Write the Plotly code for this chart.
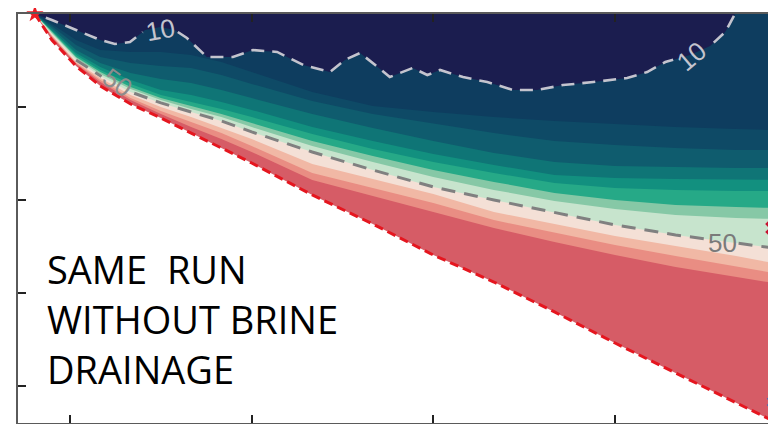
import numpy as np
import plotly.graph_objects as go

# ---------------- data (time in days, depth below ice surface in m) ----------------
days = [24.2, 27.0, 31.0, 35.0, 40.0, 45.0, 50.0, 55.0, 60.0, 70.0, 80.0,
        90.0, 100.0, 110.0, 120.0, 130.0, 140.0, 146.1]

ice_bottom = [0, .140, .280, .387, .484, .559, .640, .720, .801, .973, 1.129,
              1.296, 1.441, 1.602, 1.769, 1.930, 2.091, 2.188]
iso65 = [0, .124, .269, .366, .462, .538, .608, .672, .742, .892, .978,
         1.065, 1.151, 1.226, 1.296, 1.360, 1.414, 1.446]
iso60 = [0, .118, .263, .355, .452, .522, .581, .640, .710, .855, .935,
         1.016, 1.108, 1.177, 1.242, 1.301, 1.355, 1.392]
iso55 = [0, .113, .258, .344, .435, .500, .554, .613, .672, .806, .887,
         .968, 1.065, 1.129, 1.194, 1.247, 1.301, 1.339]
iso50 = [0, .108, .247, .333, .419, .478, .527, .575, .634, .742, .839,
         .930, 1.000, 1.065, 1.134, 1.188, 1.231, 1.258]
iso45 = [0, .102, .237, .323, .403, .462, .511, .554, .608, .710, .796,
         .876, .946, 1.005, 1.048, 1.081, 1.097, 1.102]
iso40 = [0, .097, .231, .312, .392, .452, .495, .538, .586, .683, .763,
         .839, .903, .962, 1.000, 1.027, 1.038, 1.043]
iso35 = [0, .091, .220, .301, .376, .435, .473, .511, .554, .645, .726,
         .796, .855, .909, .935, .946, .952, .952]
iso30 = [0, .086, .210, .285, .355, .409, .435, .473, .516, .608, .683,
         .753, .812, .866, .882, .887, .892, .892]
iso25 = [0, .075, .194, .263, .317, .349, .371, .409, .452, .538, .613,
         .683, .747, .796, .817, .823, .828, .828]
iso20 = [0, .065, .167, .231, .263, .280, .290, .328, .376, .468, .538,
         .591, .640, .683, .704, .720, .731, .731]
iso15 = [0, .054, .140, .194, .204, .204, .220, .258, .312, .419, .495,
         .527, .554, .575, .591, .608, .618, .624]

iso10_days = [24.2, 27.0, 31.0, 35.0, 37.4, 39.9, 42.4, 44.9, 47.3, 49.3, 52.6,
              56.9, 60.2, 64.2, 68.5, 72.9, 75.4, 77.9, 80.4, 82.8, 86.6, 89.0,
              91.1, 94.9, 98.9, 103.2, 107.1, 111.4, 116.4, 122.0, 125.3, 128.3,
              132.4, 135.7, 138.2, 139.8]
iso10 = [0, .032, .086, .140, .161, .151, .086, .070, .086, .129, .231,
         .231, .194, .204, .274, .312, .247, .210, .274, .339, .290, .328,
         .301, .339, .366, .409, .409, .382, .366, .344, .312, .258,
         .220, .172, .097, 0]

x_ticks = [30, 60, 90, 120]
y_ticks = [0.5, 1.0, 1.5, 2.0]

annotation_lines = ["SAME\u00a0\u00a0RUN", "WITHOUT BRINE", "DRAINAGE"]

# ---------------- styling ----------------
band_colors = {
    "red":      "#d65c66",
    "salmon":   "#e98d83",
    "lsalmon":  "#f1b8a5",
    "cream":    "#f4e0d6",
    "pale":     "#c7e4cd",
    "lgreen":   "#86c8a6",
    "green":    "#26a987",
    "gteal":    "#12907f",
    "teal":     "#0f7576",
    "mteal":    "#0f5c6e",
    "dteal":    "#0e4a66",
    "dblue":    "#0e3d5f",
    "navy":     "#1b1d4f",
}

# (boundary below the band, band colour) - painted deepest first
layers = [
    (days, ice_bottom, band_colors["red"]),
    (days, iso65, band_colors["salmon"]),
    (days, iso60, band_colors["lsalmon"]),
    (days, iso55, band_colors["cream"]),
    (days, iso50, band_colors["pale"]),
    (days, iso45, band_colors["lgreen"]),
    (days, iso40, band_colors["green"]),
    (days, iso35, band_colors["gteal"]),
    (days, iso30, band_colors["teal"]),
    (days, iso25, band_colors["mteal"]),
    (days, iso20, band_colors["dteal"]),
    (days, iso15, band_colors["dblue"]),
    (iso10_days, iso10, band_colors["navy"]),
]

fig = go.Figure()

for xs, ys, col in layers:
    px = list(xs) + [xs[-1], xs[0]]
    py = list(ys) + [0, 0]
    fig.add_trace(go.Scatter(x=px, y=py, fill="toself", fillcolor=col,
                             mode="lines", line=dict(width=0, color=col),
                             hoverinfo="skip", showlegend=False))


def with_gaps(xs, ys, gaps, start=None):
    xs = np.asarray(xs, float)
    ys = np.asarray(ys, float)
    outx, outy = [], []
    if start is not None:
        outx.append(start); outy.append(float(np.interp(start, xs, ys)))
    for x, y in zip(xs, ys):
        if start is not None and x <= start:
            continue
        if any(a < x < b for a, b in gaps):
            continue
        outx.append(x); outy.append(y)
    fx, fy = [], []
    for i in range(len(outx)):
        if i > 0:
            for a, b in gaps:
                if outx[i - 1] <= a and outx[i] >= b:
                    fx += [a, None, b]
                    fy += [float(np.interp(a, xs, ys)), None, float(np.interp(b, xs, ys))]
        fx.append(outx[i]); fy.append(outy[i])
    return fx, fy


# contour line "10"
lx, ly = with_gaps(iso10_days, iso10, [(42.0, 47.8), (129.6, 136.3)], start=26.0)
fig.add_trace(go.Scatter(x=lx, y=ly, mode="lines",
                         line=dict(color="#c4c4ce", width=2.6, dash="13px,8px"),
                         hoverinfo="skip", showlegend=False, connectgaps=False))
# contour line "50"
lx, ly = with_gaps(days, iso50, [(35.2, 40.6), (135.0, 140.4)], start=31.0)
fig.add_trace(go.Scatter(x=lx, y=ly, mode="lines",
                         line=dict(color="#808080", width=3, dash="14px,9px"),
                         hoverinfo="skip", showlegend=False, connectgaps=False))
# ice bottom
fig.add_trace(go.Scatter(x=days, y=ice_bottom, mode="lines",
                         line=dict(color="#e5161f", width=3, dash="9px,5px"),
                         hoverinfo="skip", showlegend=False))

# markers
fig.add_trace(go.Scatter(x=[days[0]], y=[0], mode="markers",
                         marker=dict(symbol="star", size=13, color="#ec1c24"),
                         cliponaxis=False, hoverinfo="skip", showlegend=False))
fig.add_trace(go.Scatter(x=[146.1], y=[1.151], mode="markers",
                         marker=dict(symbol="x", size=14, color="#c8102e"),
                         cliponaxis=False, hoverinfo="skip", showlegend=False))
fig.add_trace(go.Scatter(x=[146.1], y=[2.086], mode="markers",
                         marker=dict(symbol="x", size=11, color="#2a6fc9"),
                         cliponaxis=False, hoverinfo="skip", showlegend=False))

label_font = "Liberation Sans, Arial, sans-serif"
contour_labels = [
    (44.9, 0.086, "10", "#c4c4ce", -10),
    (132.7, 0.226, "10", "#c4c4ce", -40),
    (37.9, 0.371, "50", "#8c8c8c", 35),
    (137.7, 1.231, "50", "#7a7a7a", 0),
]
for x, y, t, c, ang in contour_labels:
    fig.add_annotation(x=x, y=y, text=t, showarrow=False, textangle=ang,
                       font=dict(family=label_font, size=26, color=c))

line_y = [0.3765, 0.254, 0.133]
for t, yy in zip(annotation_lines, line_y):
    fig.add_annotation(x=0.0356, y=yy, xref="paper", yref="paper", text=t,
                       showarrow=False, xanchor="left", yanchor="middle",
                       font=dict(family="Open Sans, sans-serif", size=38, color="#000000"))

# the page body adds an 8px margin, so the figure is sized to end at the window edge
fig.update_layout(
    width=768, height=416, autosize=False,
    margin=dict(l=10, r=0, t=6, b=1),
    paper_bgcolor="white", plot_bgcolor="white",
    showlegend=False,
)
fig.update_xaxes(range=[21.41, 146.58], tickvals=x_ticks, showticklabels=False,
                 ticks="inside", ticklen=8, tickwidth=1.5, tickcolor="#222",
                 showline=True, linecolor="#5a5a5a", linewidth=2, mirror="ticks",
                 showgrid=False, zeroline=False)
fig.update_yaxes(range=[2.199, 0], tickvals=y_ticks, showticklabels=False,
                 ticks="inside", ticklen=8, tickwidth=1.5, tickcolor="#222",
                 showline=True, linecolor="#5a5a5a", linewidth=2, mirror=False,
                 showgrid=False, zeroline=False)

fig.write_html("out.html")
